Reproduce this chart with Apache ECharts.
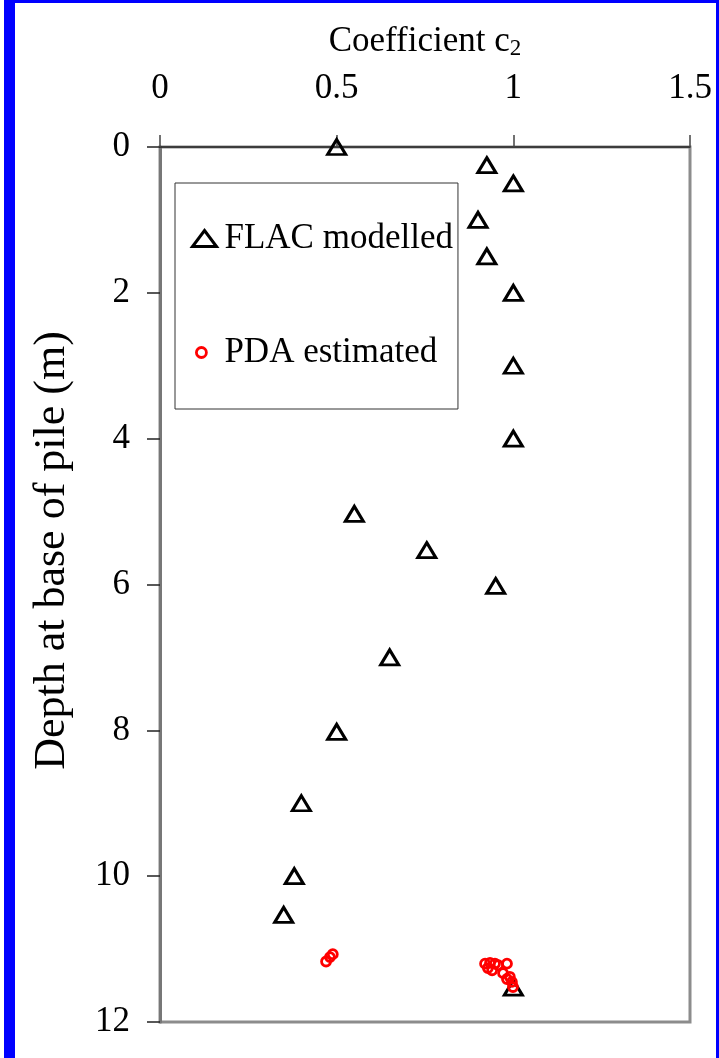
<!DOCTYPE html>
<html>
<head>
<meta charset="utf-8">
<script src="https://cdn.jsdelivr.net/npm/echarts@6/dist/echarts.min.js"></script>
<style>
html,body{margin:0;padding:0;background:#fff;}
#chart{width:719px;height:1058px;}
</style>
</head>
<body>
<div id="chart"></div>
<script>
// ---- data ----
const xTickLabels = ['0', '0.5', '1', '1.5'];
const yTickLabels = ['0', '2', '4', '6', '8', '10', '12'];
// FLAC modelled: [coefficient c2, depth (m)]
const flacC2    = [0.50, 0.925, 1.00, 0.90, 0.925, 1.00, 1.00, 1.00, 0.55, 0.755, 0.95, 0.65, 0.50, 0.40, 0.38, 0.35, 1.00];
const flacDepth = [0.00, 0.25, 0.50, 1.00, 1.50, 2.00, 3.00, 4.00, 5.03, 5.53, 6.02, 7.00, 8.02, 9.00, 10.00, 10.53, 11.53];
// PDA estimated
const pdaC2    = [0.470, 0.489, 0.481, 0.920, 0.934, 0.948, 0.940, 0.982, 0.971, 0.982, 0.996, 0.999, 0.928, 0.957, 0.990];
const pdaDepth = [11.17, 11.07, 11.11, 11.20, 11.19, 11.20, 11.29, 11.20, 11.33, 11.41, 11.45, 11.52, 11.26, 11.22, 11.38];

const FONT = "'Liberation Serif','Times New Roman',serif";
const chart = echarts.init(document.getElementById('chart'), null, {renderer: 'canvas'});

function pairs(xs, ys) { return xs.map((x, i) => [x, ys[i]]); }

chart.setOption({
  backgroundColor: '#fff',
  animation: false,
  textStyle: {fontFamily: FONT, color: '#000'},
  grid: {
    left: 160, top: 147, right: 29, bottom: 36,
    show: true, borderColor: '#8c8c8c', borderWidth: 3
  },
  xAxis: {
    type: 'value', position: 'top', min: 0, max: 1.5, interval: 0.5,
    name: 'Coefficient c{sub|2}', nameLocation: 'middle', nameGap: 87,
    nameTextStyle: {fontFamily: FONT, fontSize: 35, color: '#000',
      rich: {sub: {fontFamily: FONT, fontSize: 23, color: '#000', verticalAlign: 'bottom', padding: [14, 0, 0, 0]}}},
    axisLine: {onZero: false, lineStyle: {color: '#222', width: 1.5}},
    axisTick: {show: true, length: 12, lineStyle: {color: '#444', width: 1.5}},
    axisLabel: {fontFamily: FONT, fontSize: 35, color: '#000', margin: 41,
      formatter: v => xTickLabels[Math.round(v / 0.5)]},
    splitLine: {show: false}
  },
  yAxis: {
    type: 'value', inverse: true, min: 0, max: 12, interval: 2,
    name: 'Depth at base of pile (m)', nameLocation: 'middle', nameGap: 86, nameRotate: 90,
    nameTextStyle: {fontFamily: FONT, fontSize: 44, color: '#000', padding: [0, 0, 0, 68]},
    axisLine: {onZero: false, lineStyle: {color: '#777', width: 3}},
    axisTick: {show: true, length: 13, lineStyle: {color: '#222', width: 1.5}},
    axisLabel: {fontFamily: FONT, fontSize: 35, color: '#000', margin: 30,
      formatter: v => yTickLabels[Math.round(v / 2)]},
    splitLine: {show: false}
  },
  legend: [{
    data: ['FLAC modelled'],
    orient: 'vertical', left: 175, top: 183,
    padding: [38, 5, 153, 16],
    itemWidth: 24, itemHeight: 16,
    itemStyle: {borderWidth: 3},
    borderColor: '#333', borderWidth: 1,
    textStyle: {fontFamily: FONT, fontSize: 35, color: '#000', padding: [0, 0, 0, 3]}
  }, {
    data: ['PDA estimated'],
    orient: 'vertical', left: 195, top: 335, padding: 0,
    itemWidth: 10, itemHeight: 10,
    itemStyle: {borderWidth: 2.8},
    textStyle: {fontFamily: FONT, fontSize: 35, color: '#000', padding: [0, 0, 0, 13]}
  }],
  graphic: [
    {type: 'rect', shape: {x: 4, y: 0, width: 11, height: 1058}, style: {fill: '#0000ff'}, z: 100},
    {type: 'rect', shape: {x: 4, y: 0, width: 715, height: 3}, style: {fill: '#0000ff'}, z: 100},
    {type: 'rect', shape: {x: 716, y: 0, width: 3, height: 1058}, style: {fill: '#0000ff'}, z: 100}
  ],
  series: [{
    name: 'FLAC modelled', type: 'scatter',
    data: pairs(flacC2, flacDepth),
    symbol: 'triangle', symbolSize: [18, 15],
    itemStyle: {color: 'rgba(0,0,0,0)', borderColor: '#000', borderWidth: 3, opacity: 1}
  }, {
    name: 'PDA estimated', type: 'scatter',
    data: pairs(pdaC2, pdaDepth),
    symbol: 'circle', symbolSize: 9,
    itemStyle: {color: 'rgba(0,0,0,0)', borderColor: '#ff0000', borderWidth: 2.8, opacity: 1}
  }]
});
</script>
</body>
</html>
